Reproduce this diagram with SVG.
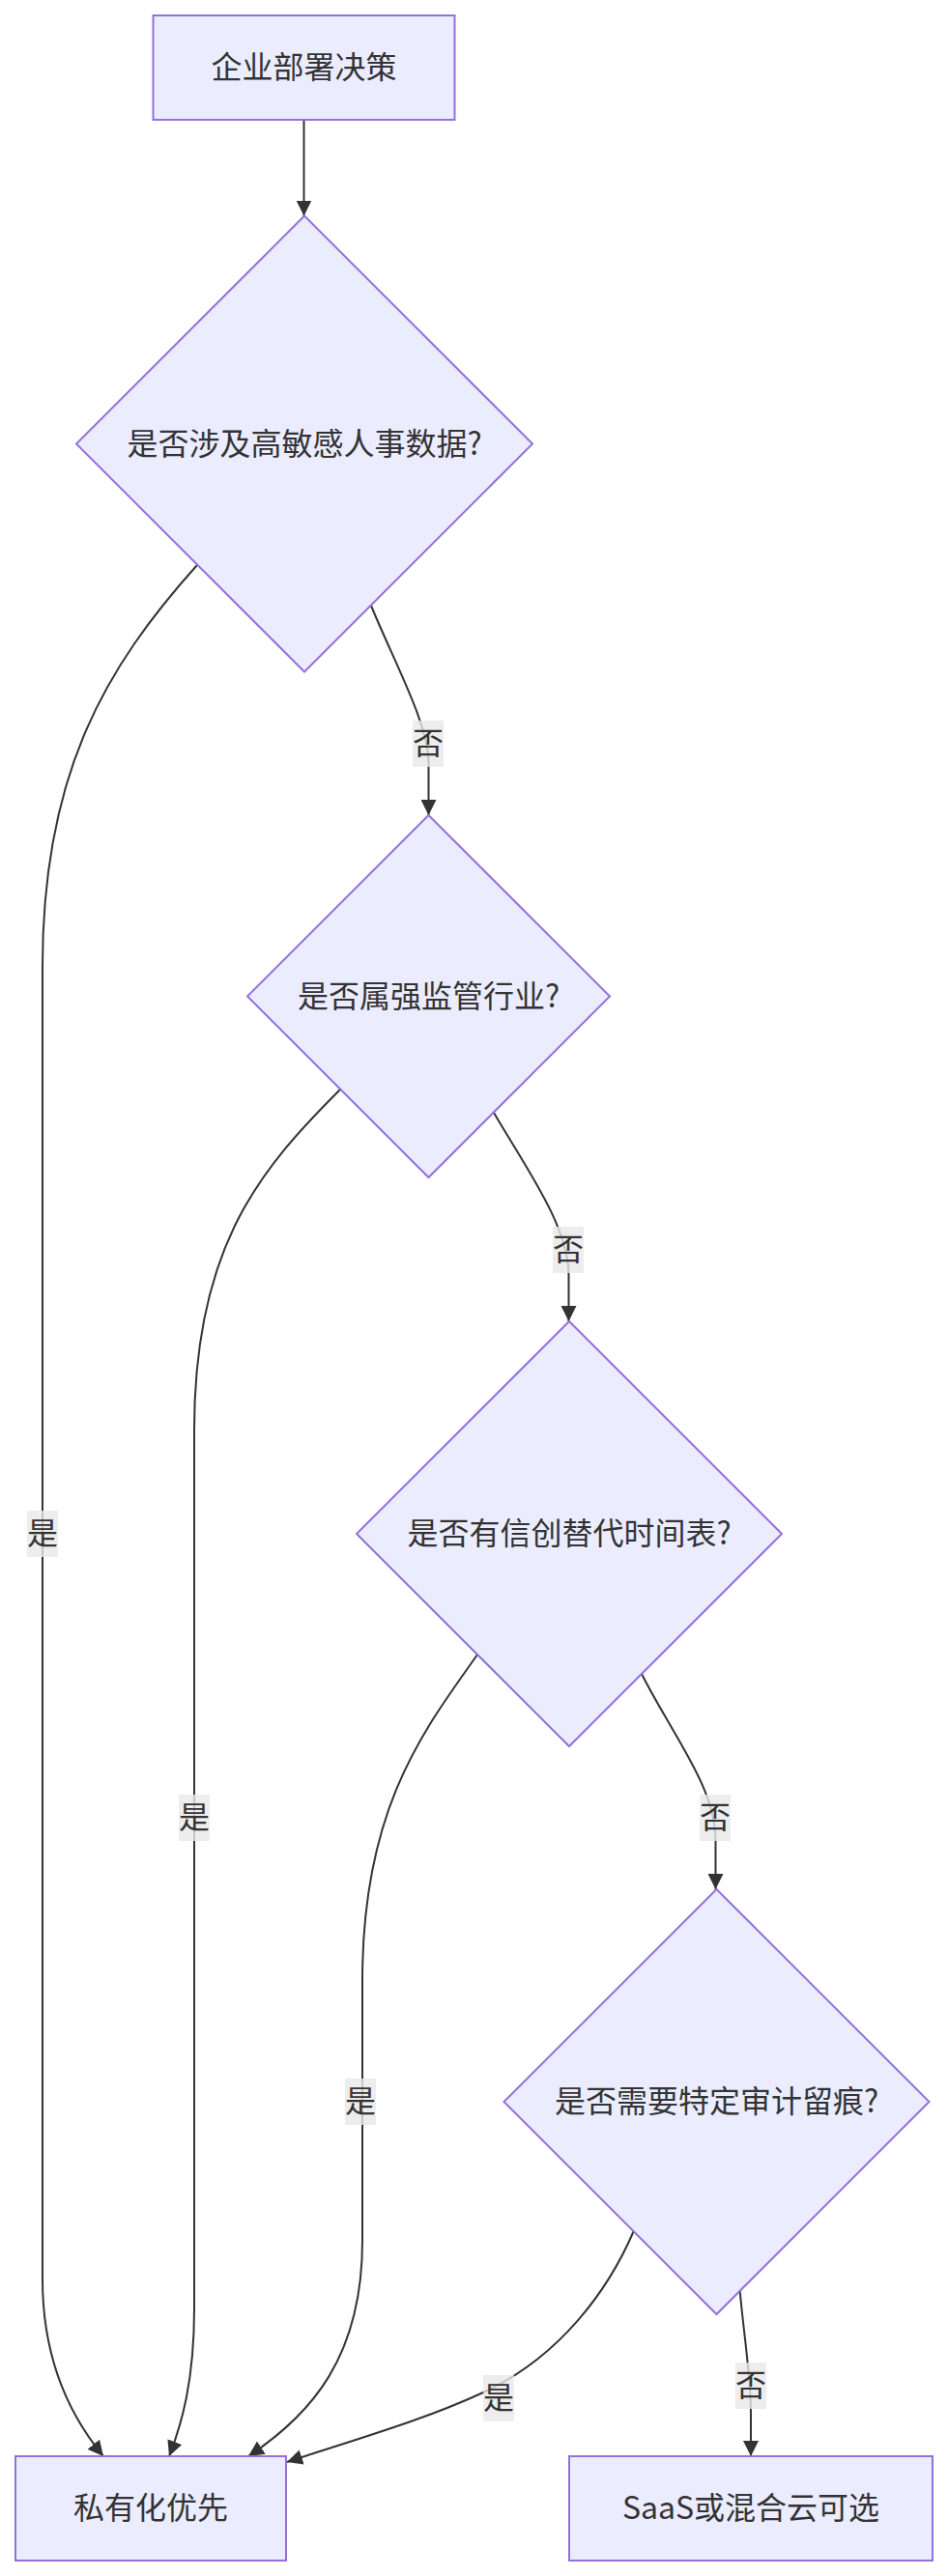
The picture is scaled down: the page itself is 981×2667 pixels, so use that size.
<svg xmlns="http://www.w3.org/2000/svg" width="981" height="2667" viewBox="0 0 981 2667">
<style>
.node{fill:#ECECFF;stroke:#9370DB;stroke-width:2}
.edge{fill:none;stroke:#333333;stroke-width:2}
.lbl{fill:#e8e8e8;fill-opacity:0.8}
text{font-family:"Noto Sans CJK SC","Noto Sans",sans-serif;font-size:32px;fill:#333333;text-anchor:middle}
</style>
<defs>
<marker id="arrow" viewBox="0 0 10 10" refX="10" refY="5" markerUnits="userSpaceOnUse" markerWidth="16" markerHeight="16" orient="auto">
<path d="M0,0 L10,5 L0,10 z" fill="#333333"/>
</marker>
</defs>
<rect width="981" height="2667" fill="#ffffff"/>
<g id="connectors">
<path class="edge" marker-end="url(#arrow)" d="M314.5,124 L314.5,223.5"/>
<path class="edge" marker-end="url(#arrow)" d="M204,585 C110,690 44,800 44,1000 L44,2360 C44,2450 78,2508 107,2543"/>
<path class="edge" marker-end="url(#arrow)" d="M384,627 C410,690 443.5,750 443.5,790 L443.5,844"/>
<path class="edge" marker-end="url(#arrow)" d="M352,1128 C270,1210 201,1290 201,1480 L201,2390 C201,2465 188,2510 175,2543"/>
<path class="edge" marker-end="url(#arrow)" d="M511,1152 C545,1210 588.5,1270 588.5,1320 L588.5,1368"/>
<path class="edge" marker-end="url(#arrow)" d="M494,1713 C440,1790 375,1870 375,2050 L375,2320 C375,2440 322,2500 257,2543"/>
<path class="edge" marker-end="url(#arrow)" d="M664,1733 C695,1795 740.5,1850 740.5,1905 L740.5,1956"/>
<path class="edge" marker-end="url(#arrow)" d="M655.7,2310 C630,2370 580,2440 500,2477 C440,2505 370,2525 297,2549"/>
<path class="edge" marker-end="url(#arrow)" d="M765.7,2372 C770,2420 777,2460 777,2500 L777,2543"/>
</g>
<g id="edge-labels">
<g id="label-d1-yes"><rect class="lbl" x="28" y="1564" width="32" height="48"/><text x="44" y="1599">是</text></g>
<g id="label-d1-no"><rect class="lbl" x="427" y="746" width="32" height="48"/><text x="443" y="781">否</text></g>
<g id="label-d2-yes"><rect class="lbl" x="185" y="1858" width="32" height="48"/><text x="201" y="1893">是</text></g>
<g id="label-d2-no"><rect class="lbl" x="572" y="1270" width="32" height="48"/><text x="588" y="1305">否</text></g>
<g id="label-d3-yes"><rect class="lbl" x="357" y="2152" width="32" height="48"/><text x="373" y="2187">是</text></g>
<g id="label-d3-no"><rect class="lbl" x="724" y="1858" width="32" height="48"/><text x="740" y="1893">否</text></g>
<g id="label-d4-yes"><rect class="lbl" x="500" y="2459" width="32" height="48"/><text x="516" y="2494">是</text></g>
<g id="label-d4-no"><rect class="lbl" x="761" y="2446" width="32" height="48"/><text x="777" y="2481">否</text></g>
</g>
<g id="node-start"><rect class="node" x="158.5" y="16" width="312" height="108"/><text x="314.5" y="81">企业部署决策</text></g>
<g id="node-d1"><polygon class="node" points="315,223.5 551,459.5 315,695.5 79,459.5"/><text x="315" y="470.5">是否涉及高敏感人事数据?</text></g>
<g id="node-d2"><polygon class="node" points="443.5,844 631,1031.5 443.5,1219 256,1031.5"/><text x="443.5" y="1042.5">是否属强监管行业?</text></g>
<g id="node-d3"><polygon class="node" points="589,1368 809,1588 589,1808 369,1588"/><text x="589" y="1599">是否有信创替代时间表?</text></g>
<g id="node-d4"><polygon class="node" points="741.5,1956 961.5,2176 741.5,2396 521.5,2176"/><text x="741.5" y="2187">是否需要特定审计留痕?</text></g>
<g id="node-private"><rect class="node" x="16" y="2543" width="280" height="108"/><text x="156" y="2608">私有化优先</text></g>
<g id="node-saas"><rect class="node" x="589" y="2543" width="376" height="108"/><text x="777" y="2608">SaaS或混合云可选</text></g>
</svg>
